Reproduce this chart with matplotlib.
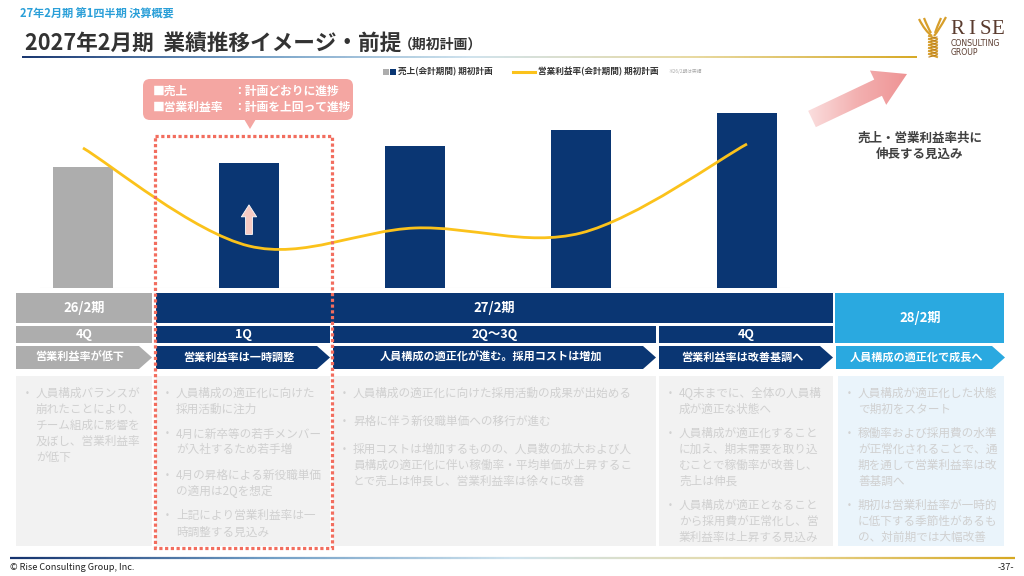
import numpy as np
import matplotlib
matplotlib.use('Agg')
import matplotlib.pyplot as plt
from matplotlib.patches import Rectangle, Polygon, FancyBboxPatch, FancyArrowPatch, PathPatch
from matplotlib.path import Path
from matplotlib.collections import LineCollection
from matplotlib.colors import LinearSegmentedColormap

plt.rcParams['font.family'] = ['Noto Sans CJK JP', 'DejaVu Sans']

# ---- chart data (no axis values shown there)
periods = ['26/2期 4Q', '27/2期 1Q', '27/2期 2Q', '27/2期 3Q', '27/2期 4Q']
sales = [100, 103, 117, 131, 145]          # 売上(会計期間) 期初計画, index
op_margin = [14.0, 4.2, 6.0, 5.5, 14.4]    # 営業利益率(会計期間) 期初計画, %
is_actual = [True, False, False, False, False]

# ---- timeline labels
row1 = [('26/2期', 16, 152, 'gray'), ('27/2期', 156, 833, 'navy')]
row2 = [('4Q', 16, 152, 'gray'), ('1Q', 156, 330, 'navy'),
        ('2Q～3Q', 333, 656, 'navy'), ('4Q', 659, 833, 'navy')]
row3 = [('営業利益率が低下', 16, 152, 'gray'),
        ('営業利益率は一時調整', 156, 330, 'navy'),
        ('人員構成の適正化が進む。採用コストは増加', 333, 656, 'navy'),
        ('営業利益率は改善基調へ', 659, 833, 'navy'),
        ('人員構成の適正化で成長へ', 836, 1005, 'light')]

panel_a = [['人員構成バランスが', '崩れたことにより、', 'チーム組成に影響を',
            '及ぼし、営業利益率', 'が低下']]
panel_b = [['人員構成の適正化に向けた', '採用活動に注力'],
           ['4月に新卒等の若手メンバー', 'が入社するため若手増'],
           ['4月の昇格による新役職単価', 'の適用は2Qを想定'],
           ['上記により営業利益率は一', '時調整する見込み']]
panel_c = [['人員構成の適正化に向けた採用活動の成果が出始める'],
           ['昇格に伴う新役職単価への移行が進む'],
           ['採用コストは増加するものの、人員数の拡大および人',
            '員構成の適正化に伴い稼働率・平均単価が上昇するこ',
            'とで売上は伸長し、営業利益率は徐々に改善']]
panel_d = [['4Q末までに、全体の人員構', '成が適正な状態へ'],
           ['人員構成が適正化すること', 'に加え、期末需要を取り込',
            'むことで稼働率が改善し、', '売上は伸長'],
           ['人員構成が適正となること', 'から採用費が正常化し、営',
            '業利益率は上昇する見込み']]
panel_e = [['人員構成が適正化した状態', 'で期初をスタート'],
           ['稼働率および採用費の水準', 'が正常化されることで、通',
            '期を通して営業利益率は改', '善基調へ'],
           ['期初は営業利益率が一時的', 'に低下する季節性があるも',
            'の、対前期では大幅改善']]

NAVY = '#0a3673'
GRAY = '#adadad'
LIGHT = '#2aa9e0'
YELLOW = '#fbc21b'
colors = {'navy': NAVY, 'gray': GRAY, 'light': LIGHT}

W, H = 1024, 576
fig = plt.figure(figsize=(W / 100, H / 100), dpi=100)
bg = fig.add_axes([0, 0, 1, 1])
bg.set_xlim(0, W)
bg.set_ylim(H, 0)
bg.set_autoscale_on(False)
bg.axis('off')


def grad_line(ax, x0, x1, y, cmap, lw):
    xs = np.linspace(x0, x1, 400)
    pts = np.column_stack([xs, np.full_like(xs, y)])
    segs = np.stack([pts[:-1], pts[1:]], axis=1)
    ax.add_collection(LineCollection(segs, colors=cmap(np.linspace(0, 1, len(segs))),
                                     linewidths=lw))


def smooth_path(xs, ys):
    # Catmull-Rom style smoothing like an Excel "smoothed line"
    p = np.column_stack([xs, ys]).astype(float)
    ext = np.vstack([p[0], p, p[-1]])
    verts, codes = [p[0]], [Path.MOVETO]
    for i in range(len(p) - 1):
        p0, p1, p2, p3 = ext[i], ext[i + 1], ext[i + 2], ext[i + 3]
        verts += [p1 + (p2 - p0) / 6, p2 - (p3 - p1) / 6, p2]
        codes += [Path.CURVE4] * 3
    return Path(verts, codes)


def chevron(ax, x0, x1, y0, y1, color, tip=13):
    ym = (y0 + y1) / 2
    ax.add_patch(Polygon([(x0, y0), (x1 - tip, y0), (x1, ym), (x1 - tip, y1), (x0, y1)],
                         closed=True, fc=color, ec='none'))


# ---- header
bg.text(20, 14, '27年2月期 第1四半期 決算概要', fontsize=8, fontweight='bold',
        color='#2a9fd8', va='center')
bg.text(25, 43, '2027年2月期  業績推移イメージ・前提', fontsize=15.6, fontweight='bold',
        color='#333333', va='center')
bg.text(399, 45, '（期初計画）', fontsize=10, fontweight='bold', color='#333333', va='center')
line_cmap = LinearSegmentedColormap.from_list('hl', ['#15336e', '#6f9cc4', '#cfe3ee', '#e8d9a0', '#d6a823'])
grad_line(bg, 22, 917, 57, line_cmap, 1.4)

# logo
gold = '#d79e2a'
for a, b, c in [((919, 19), (925, 31), (932, 36)), ((946, 17), (939, 30), (934, 36)),
                ((924, 18), (928, 28), (931, 33)), ((941, 18), (937, 27), (935, 33))]:
    bg.add_patch(PathPatch(Path([a, b, c], [Path.MOVETO, Path.CURVE3, Path.CURVE3]),
                           fill=False, ec=gold, lw=1.6))
for yy in range(36, 56, 3):
    bg.plot([929, 937], [yy, yy + 3], color=gold, lw=1.4)
    bg.plot([937, 929], [yy + 1, yy + 3], color='#b87d1c', lw=0.8)
brown = '#5a3b2e'
for ch, xx in zip('RISE', [957, 972, 985, 998]):
    bg.text(xx, 30, ch, fontsize=15, color=brown, family='Liberation Serif',
            ha='center', va='center')
bg.text(951, 44, 'CONSULTING', fontsize=5.6, color=brown, va='center', family='DejaVu Sans')
bg.text(951, 52.5, 'GROUP', fontsize=5.6, color=brown, va='center', family='DejaVu Sans')

# ---- legend
bg.add_patch(Rectangle((383, 69), 6, 6, fc=GRAY, ec='none'))
bg.add_patch(Rectangle((390, 69), 6, 6, fc=NAVY, ec='none'))
bg.text(398, 72, '売上(会計期間) 期初計画', fontsize=6.2, fontweight='bold', color='#333333', va='center')
bg.plot([513, 535], [72, 72], color=YELLOW, lw=2.2)
bg.text(538, 72, '営業利益率(会計期間) 期初計画', fontsize=6.2, fontweight='bold', color='#333333', va='center')
bg.text(668, 72, '※26/2期は実績', fontsize=3.4, color='#aaaaaa', va='center')

# ---- chart
ax = fig.add_axes([40 / W, 1 - 288 / H, 750 / W, 188 / H])
x = np.arange(len(periods))
ax.bar(x, sales, width=0.36, color=[GRAY if a else NAVY for a in is_actual], zorder=2)
ax.axhline(0, color='#e3e3e3', lw=0.8, zorder=1)
ax.set_xlim(-0.259, len(periods) - 1 + 0.259)
ax.set_ylim(0, 155.4)
ax.axis('off')
ax.add_patch(FancyArrowPatch((1, 42), (1, 71), arrowstyle='simple,head_length=0.86,head_width=1.1,tail_width=0.5',
                             mutation_scale=10, fc='#f6cbc4', ec='white', lw=0.6, zorder=3))
ax2 = ax.twinx()
ax2.set_ylim(0, 18.8)
ax2.axis('off')
ax2.add_patch(PathPatch(smooth_path(x, op_margin), fill=False, ec=YELLOW, lw=2.0, zorder=4))

# ---- big arrow (gradient)
tail, tip = np.array([812.0, 119.0]), np.array([907.0, 74.0])
u = (tip - tail) / np.linalg.norm(tip - tail)
n = np.array([-u[1], u[0]])
hb = tip - u * 32
arrow_poly = Polygon([tail + n * 9, hb + n * 9, hb + n * 19, tip, hb - n * 19, hb - n * 9, tail - n * 9],
                     closed=True, fc='none', ec='none')
bg.add_patch(arrow_poly)
arrow_cmap = LinearSegmentedColormap.from_list('ar', ['#fbe1e1', '#f3b0b0', '#ee9293'])
im = bg.imshow(np.linspace(0, 1, 256).reshape(1, -1), extent=[805, 910, 130, 65],
               cmap=arrow_cmap, aspect='auto', zorder=2)
im.set_clip_path(arrow_poly)
bg.text(920, 138, '売上・営業利益率共に', fontsize=9, fontweight='bold', color='#404040',
        ha='center', va='center')
bg.text(920, 154, '伸長する見込み', fontsize=9, fontweight='bold', color='#404040',
        ha='center', va='center')

# ---- timeline bands
for label, x0, x1, c in row1:
    bg.add_patch(Rectangle((x0, 293), x1 - x0, 30, fc=colors[c], ec='none'))
    bg.text((x0 + x1) / 2, 308, label, fontsize=9.5, fontweight='bold', color='white',
            ha='center', va='center')
bg.add_patch(Rectangle((835, 293), 169, 50, fc=LIGHT, ec='none'))
bg.text(920, 318, '28/2期', fontsize=9.5, fontweight='bold', color='white', ha='center', va='center')
for label, x0, x1, c in row2:
    bg.add_patch(Rectangle((x0, 326), x1 - x0, 17, fc=colors[c], ec='none'))
    bg.text((x0 + x1) / 2, 334.5, label, fontsize=9, fontweight='bold', color='white',
            ha='center', va='center')
for label, x0, x1, c in row3:
    chevron(bg, x0, x1, 346, 369, colors[c])
    bg.text((x0 + x1 - 8) / 2, 357.5, label, fontsize=8, fontweight='bold', color='white',
            ha='center', va='center')

# ---- description panels
panels = [(panel_a, 16, 152, '#f2f2f2', 8), (panel_b, 156, 330, '#f2f2f2', 9),
          (panel_c, 333, 656, '#f2f2f2', 12), (panel_d, 659, 833, '#f2f2f2', 8),
          (panel_e, 838, 1004, '#eaf4fb', 8)]
for items, x0, x1, fc, gap in panels:
    bg.add_patch(Rectangle((x0, 376), x1 - x0, 170, fc=fc, ec='none'))
    yy = 393
    for lines in items:
        bg.text(x0 + 9, yy, '•', fontsize=6, color='#d2d2d2', va='center', family='DejaVu Sans')
        for ln in lines:
            bg.text(x0 + 20, yy, ln, fontsize=8.4, color='#d0d0d0', va='center')
            yy += 16
        yy += gap

# ---- overlay: callout + dotted frame
ov = fig.add_axes([0, 0, 1, 1], zorder=5)
ov.set_xlim(0, W)
ov.set_ylim(H, 0)
ov.set_autoscale_on(False)
ov.axis('off')
ov.patch.set_alpha(0)
ov.add_patch(Rectangle((155, 136), 177, 412, fill=False, ec='#f26d5e', lw=2.3,
                       linestyle=(0, (1, 0.8))))
ov.add_patch(FancyBboxPatch((143, 79), 210, 41, boxstyle='round,pad=0,rounding_size=7',
                            fc='#f4a6a2', ec='none'))
ov.add_patch(Polygon([(244, 119), (256, 119), (250, 129)], closed=True, fc='#f4a6a2', ec='none'))
ov.text(153, 91, '■売上', fontsize=8.5, fontweight='bold', color='white', va='center')
ov.text(233, 91, '：計画どおりに進捗', fontsize=8.5, fontweight='bold', color='white', va='center')
ov.text(153, 107, '■営業利益率', fontsize=8.5, fontweight='bold', color='white', va='center')
ov.text(233, 107, '：計画を上回って進捗', fontsize=8.5, fontweight='bold', color='white', va='center')

# ---- footer
grad_line(bg, 10, 1015, 558, line_cmap, 1.6)
bg.text(10, 567, '© Rise Consulting Group, Inc.', fontsize=6.6, color='#222222', va='center')
bg.text(1014, 568, '-37-', fontsize=6.6, color='#222222', va='center', ha='right')

fig.savefig('out.png', dpi=100)
